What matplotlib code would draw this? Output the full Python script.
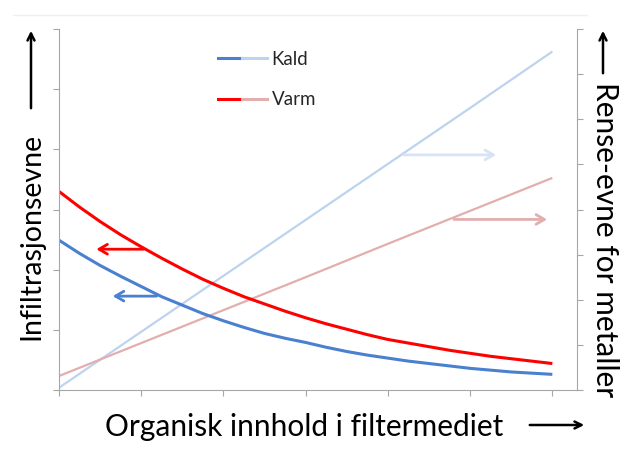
import matplotlib.pyplot as plt
from matplotlib.lines import Line2D
from matplotlib.legend_handler import HandlerTuple

plt.rcParams['font.family'] = ['Lato', 'DejaVu Sans']

x_fine = [0, 0.25, 0.5, 0.75, 1, 1.25, 1.5, 1.75, 2, 2.25, 2.5, 2.75, 3,
          3.25, 3.5, 3.75, 4, 4.25, 4.5, 4.75, 5, 5.25, 5.5, 5.75, 6]
# infiltration capacity (left axis)
kald_infil = [2.49, 2.27, 2.07, 1.89, 1.72, 1.55, 1.41, 1.27, 1.15, 1.04, 0.94, 0.86, 0.79,
              0.71, 0.64, 0.58, 0.53, 0.48, 0.44, 0.40, 0.36, 0.33, 0.30, 0.28, 0.26]
varm_infil = [3.30, 3.04, 2.80, 2.58, 2.38, 2.19, 2.01, 1.84, 1.69, 1.55, 1.43, 1.31, 1.20,
              1.10, 1.01, 0.92, 0.84, 0.78, 0.72, 0.66, 0.61, 0.56, 0.52, 0.48, 0.44]
# metal removal capacity (right axis)
x_full = [0, 1, 2, 3, 4, 5, 6]
kald_rense = [0.05, 1.29, 2.53, 3.77, 5.01, 6.25, 7.5]
varm_rense = [0.31, 1.04, 1.77, 2.50, 3.24, 3.97, 4.70]

blue = '#4A80D0'
red = '#FF0000'
lblue = '#BDD3EE'
pink = '#E2AEAE'
grey = '#A6A6A6'

fig = plt.figure(figsize=(6.3, 4.55), dpi=100)
ax = fig.add_axes([59/630, 1-390/455, (577-59)/630, (390-29)/455])
ax2 = ax.twinx()

ax.plot(x_fine, kald_infil, color=blue, lw=2.2, solid_capstyle='butt', solid_joinstyle='round')
ax.plot(x_fine, varm_infil, color=red, lw=2.2, solid_capstyle='butt', solid_joinstyle='round')
ax2.plot(x_full, kald_rense, color=lblue, lw=1.6, solid_capstyle='butt')
ax2.plot(x_full, varm_rense, color=pink, lw=1.6, solid_capstyle='butt')

# dark lines on top
ax.set_zorder(ax2.get_zorder() + 1)
ax.patch.set_visible(False)

ax.set_xlim(0, 6.3)
ax.set_ylim(0, 6)
ax2.set_ylim(0, 8)
ax.set_xticks(x_full)
ax.set_yticks(range(7))
ax2.set_yticks(range(9))
ax.set_xticklabels([])
ax.set_yticklabels([])
ax2.set_yticklabels([])

for a in (ax, ax2):
    a.spines['top'].set_visible(False)
    for s in a.spines.values():
        s.set_color(grey)
        s.set_linewidth(0.8)
    a.tick_params(color=grey, length=4, width=0.8, direction='out')
ax.spines['right'].set_visible(False)
ax2.spines['left'].set_visible(False)
ax2.spines['bottom'].set_visible(False)

# arrows showing which axis each curve belongs to
arr = dict(arrowstyle='->,head_length=0.6,head_width=0.35', lw=2.0)
ax.annotate('', xy=(0.42, 2.34), xytext=(1.06, 2.34),
            arrowprops=dict(arr, color=red))
ax.annotate('', xy=(0.62, 1.56), xytext=(1.22, 1.56),
            arrowprops=dict(arr, color=blue))
ax2.annotate('', xy=(5.35, 5.21), xytext=(4.16, 5.21),
             arrowprops=dict(arr, color='#D6E4F4'))
ax2.annotate('', xy=(5.97, 3.78), xytext=(4.77, 3.78),
             arrowprops=dict(arr, color=pink))

# legend with two-tone handles
h_kald = (Line2D([], [], color=blue, lw=2.2), Line2D([], [], color=lblue, lw=2.2))
h_varm = (Line2D([], [], color=red, lw=2.2), Line2D([], [], color=pink, lw=2.2))
fig.legend([h_kald, h_varm], ['Kald', 'Varm'],
           handler_map={tuple: HandlerTuple(ndivide=None, pad=0)},
           loc='upper left', bbox_to_anchor=(218/630, 1-51/455),
           frameon=False, fontsize=13.5, handlelength=2.6, handletextpad=0.25,
           labelspacing=1.25, borderpad=0, borderaxespad=0,
           labelcolor='#262626')

# axis titles with arrows
fig.text(304/630, 1-427/455, 'Organisk innhold i filtermediet', fontsize=21.5,
         ha='center', va='center', color='black')
fig.text(31/630, 1-236/455, 'Infiltrasjonsevne', fontsize=20.5, rotation=90,
         ha='center', va='center', color='black')
fig.text(605/630, 1-240/455, 'Rense-evne for metaller', fontsize=21.5, rotation=-90,
         ha='center', va='center', color='black')

ah = dict(arrowstyle='->,head_length=0.5,head_width=0.25', lw=1.8, color='black')
ax.annotate('', xy=(587/630, 1-425/455), xytext=(527/630, 1-425/455),
            xycoords='figure fraction', textcoords='figure fraction', arrowprops=ah)
ax.annotate('', xy=(31/630, 1-28/455), xytext=(31/630, 1-111/455),
            xycoords='figure fraction', textcoords='figure fraction', arrowprops=ah)
ax.annotate('', xy=(603/630, 1-28/455), xytext=(603/630, 1-76/455),
            xycoords='figure fraction', textcoords='figure fraction', arrowprops=ah)

# faint frame line at the top of the chart area
fig.add_artist(Line2D([13/630, 587/630], [1-15/455, 1-15/455],
                      transform=fig.transFigure, color='#EFEFEF', lw=1))

fig.savefig('out.png', dpi=100)
